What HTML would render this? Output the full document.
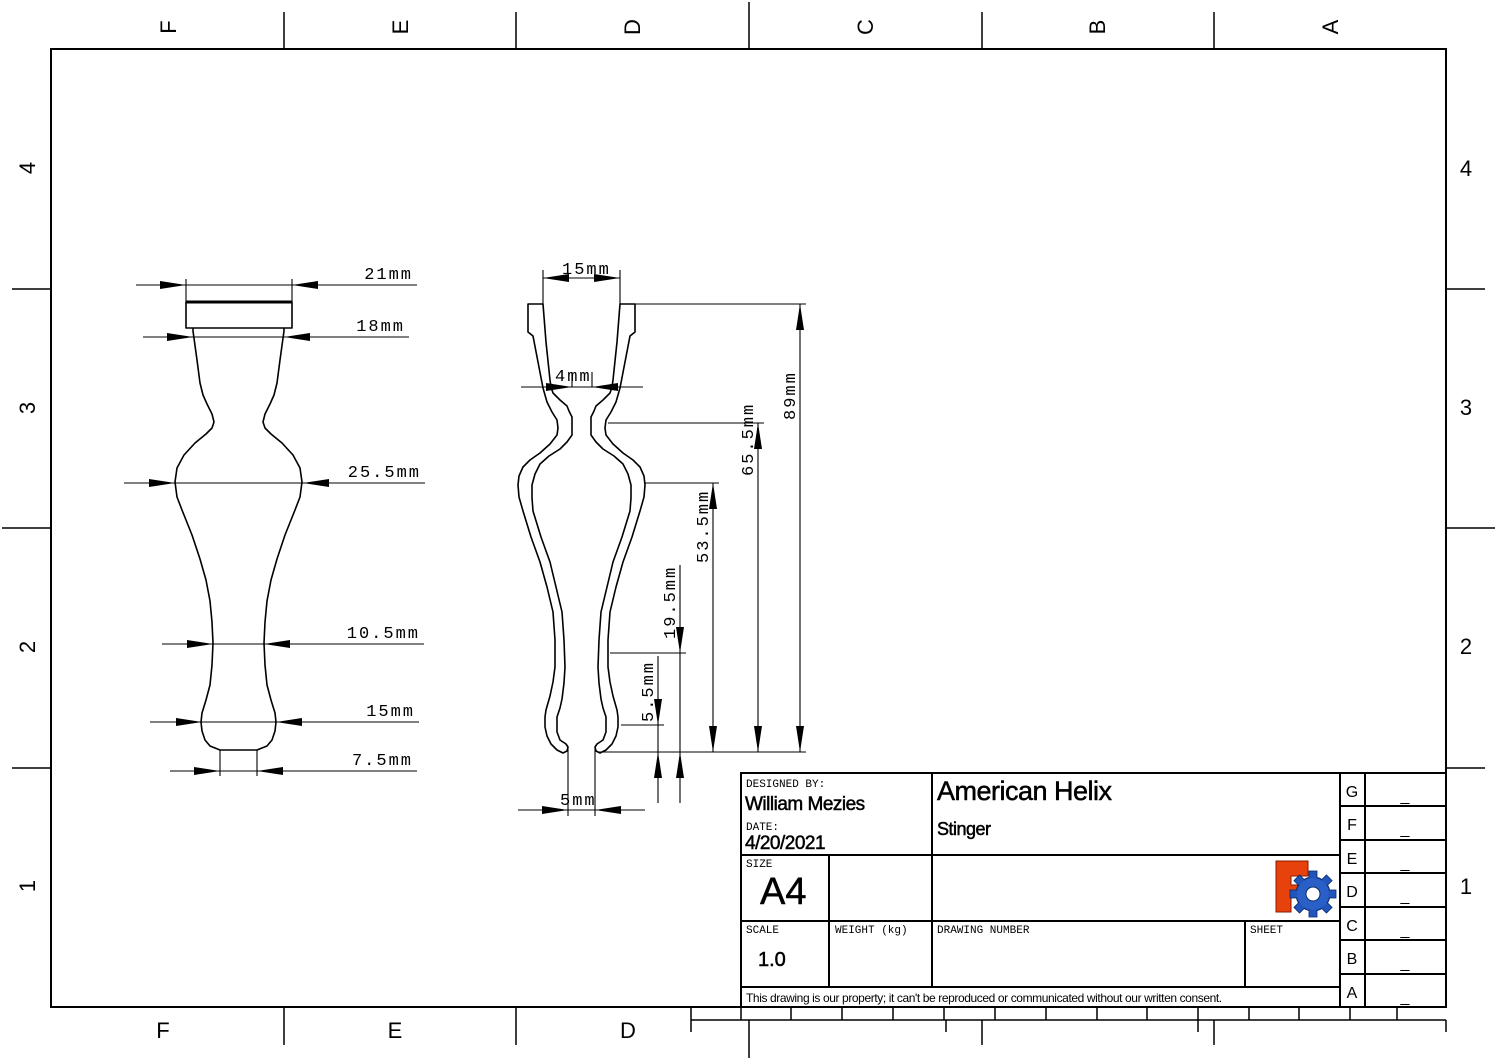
<!DOCTYPE html>
<html><head><meta charset="utf-8"><style>
html,body{margin:0;padding:0;background:#fff}
svg{display:block}
.d{font-family:"Liberation Mono","DejaVu Sans Mono",monospace;font-size:17px;letter-spacing:2px;fill:#000}
.s{font-family:"Liberation Sans",sans-serif;fill:#000}
.b{stroke:#000;stroke-width:0.5}
.m{font-family:"Liberation Mono",monospace;font-size:11px;fill:#000}
</style></head><body>
<svg width="1497" height="1058" viewBox="0 0 1497 1058" xmlns="http://www.w3.org/2000/svg">
<rect width="1497" height="1058" fill="#fff"/>
<g stroke="#000" fill="none">
<rect x="51" y="49" width="1395" height="958" stroke-width="2"/>
<g stroke-width="1.5">
<line x1="284" y1="12" x2="284" y2="49"/><line x1="516" y1="12" x2="516" y2="49"/><line x1="749" y1="2" x2="749" y2="49"/><line x1="982" y1="12" x2="982" y2="49"/><line x1="1214" y1="12" x2="1214" y2="49"/>
<line x1="12" y1="289" x2="51" y2="289"/><line x1="2" y1="528" x2="51" y2="528"/><line x1="12" y1="768" x2="51" y2="768"/>
<line x1="1446" y1="289" x2="1485" y2="289"/><line x1="1446" y1="528" x2="1495" y2="528"/><line x1="1446" y1="768" x2="1485" y2="768"/>
<line x1="284" y1="1007" x2="284" y2="1045"/><line x1="516" y1="1007" x2="516" y2="1045"/>
<line x1="691" y1="1020" x2="1446" y2="1020"/>
<line x1="691" y1="1007" x2="691" y2="1032"/><line x1="749" y1="1020" x2="749" y2="1058"/><line x1="946" y1="1020" x2="946" y2="1032"/>
<line x1="982" y1="1020" x2="982" y2="1045"/><line x1="1198" y1="1020" x2="1198" y2="1032"/><line x1="1214" y1="1020" x2="1214" y2="1045"/><line x1="1446" y1="1020" x2="1446" y2="1032"/>
<line x1="691" y1="1007" x2="741" y2="1007"/>
</g>
<g stroke-width="1.5">
<line x1="741" y1="1007" x2="741" y2="1020"/><line x1="791" y1="1007" x2="791" y2="1020"/><line x1="842" y1="1007" x2="842" y2="1020"/><line x1="893" y1="1007" x2="893" y2="1020"/><line x1="944" y1="1007" x2="944" y2="1020"/><line x1="995" y1="1007" x2="995" y2="1020"/><line x1="1046" y1="1007" x2="1046" y2="1020"/><line x1="1097" y1="1007" x2="1097" y2="1020"/><line x1="1147" y1="1007" x2="1147" y2="1020"/><line x1="1198" y1="1007" x2="1198" y2="1020"/><line x1="1249" y1="1007" x2="1249" y2="1020"/><line x1="1299" y1="1007" x2="1299" y2="1020"/><line x1="1350" y1="1007" x2="1350" y2="1020"/><line x1="1397" y1="1007" x2="1397" y2="1020"/>
</g>
</g>
<g class="s" font-size="22">
<text transform="translate(176,27) rotate(-90)" text-anchor="middle">F</text>
<text transform="translate(408,27) rotate(-90)" text-anchor="middle">E</text>
<text transform="translate(640,27) rotate(-90)" text-anchor="middle">D</text>
<text transform="translate(873,27) rotate(-90)" text-anchor="middle">C</text>
<text transform="translate(1105,27) rotate(-90)" text-anchor="middle">B</text>
<text transform="translate(1338,27) rotate(-90)" text-anchor="middle">A</text>
<text transform="translate(35,168) rotate(-90)" text-anchor="middle">4</text>
<text transform="translate(35,408) rotate(-90)" text-anchor="middle">3</text>
<text transform="translate(35,647) rotate(-90)" text-anchor="middle">2</text>
<text transform="translate(35,886) rotate(-90)" text-anchor="middle">1</text>
<text x="1466" y="176" text-anchor="middle">4</text>
<text x="1466" y="415" text-anchor="middle">3</text>
<text x="1466" y="654" text-anchor="middle">2</text>
<text x="1466" y="894" text-anchor="middle">1</text>
<text x="163" y="1038" text-anchor="middle">F</text>
<text x="395" y="1038" text-anchor="middle">E</text>
<text x="628" y="1038" text-anchor="middle">D</text>
</g>

<g stroke="#000" fill="none" stroke-width="1.6" stroke-linejoin="round">
<rect x="186" y="302" width="106" height="26"/>
<line x1="186" y1="302" x2="292" y2="302" stroke-width="3"/>
<polyline points="193,328 193,331 197,360 200,383 203,395 207,404 212,414 214,422 212,428 206,434 195,443 184,455 177,468 175,482 177,497 182,510 192,535 200,559 206,580 210,601 212,622 213,643 212,665 210,685 206,700 202,713 201,722 202,731 205,740 210,746 220,750 257,750 267,746 272,740 275,731 276,722 275,713 271,700 267,685 265,665 264,643 265,622 267,601 271,580 277,559 285,535 295,510 300,497 302,482 300,468 293,455 282,443 271,434 265,428 263,422 265,414 270,404 274,395 277,383 280,360 284,331 284,328"/>
</g>
<g stroke="#000" stroke-width="1.1">
<line x1="136" y1="285" x2="417" y2="285"/><line x1="186" y1="279" x2="186" y2="302"/><line x1="292" y1="279" x2="292" y2="302"/>
<line x1="143" y1="337" x2="409" y2="337"/>
<line x1="124" y1="483" x2="425" y2="483"/>
<line x1="162" y1="644" x2="424" y2="644"/>
<line x1="150" y1="722" x2="419" y2="722"/>
<line x1="170" y1="771" x2="417" y2="771"/><line x1="220" y1="750" x2="220" y2="776"/><line x1="257" y1="750" x2="257" y2="776"/>
</g>
<g fill="#000">
<polygon points="160,281 186,285 160,289"/><polygon points="318,281 292,285 318,289"/>
<polygon points="167,333 193,337 167,341"/><polygon points="310,333 284,337 310,341"/>
<polygon points="149,479 175,483 149,487"/><polygon points="329,479 303,483 329,487"/>
<polygon points="187,640 213,644 187,648"/><polygon points="290,640 264,644 290,648"/>
<polygon points="176,718 202,722 176,726"/><polygon points="302,718 276,722 302,726"/>
<polygon points="194,767 220,771 194,775"/><polygon points="283,767 257,771 283,775"/>
</g>
<g class="d" text-anchor="end">
<text x="413" y="279">21mm</text>
<text x="405" y="331">18mm</text>
<text x="421" y="477">25.5mm</text>
<text x="420" y="638">10.5mm</text>
<text x="415" y="716">15mm</text>
<text x="413" y="765">7.5mm</text>
</g>

<g stroke="#000" fill="none" stroke-width="1.6" stroke-linejoin="round">
<polygon points="543,304 528,304 528,332 533,336 538,362 543,388 547,402 552,412 557,420 558,428 557,435 550,444 540,453 530,460 523,467 519,476 518,485 519,497 523,511 531,537 540,562 547,587 553,612 555,640 555,667 553,682 550,696 546,710 545,717 545,727 547,736 551,744 557,750 563,753 567,751 568,747 566,744 560,740 557,732 557,724 557,717 560,708 562,699 564,683 565,667 564,640 562,612 556,587 550,562 541,537 533,511 532,498 532,485 535,474 540,464 549,456 560,449 567,442 572,435 572,426 572,417 569,411 567,406 560,400 553,393 551,387 550,380 546,342 543,304"/>
<polygon transform="translate(1163,0) scale(-1,1)" points="543,304 528,304 528,332 533,336 538,362 543,388 547,402 552,412 557,420 558,428 557,435 550,444 540,453 530,460 523,467 519,476 518,485 519,497 523,511 531,537 540,562 547,587 553,612 555,640 555,667 553,682 550,696 546,710 545,717 545,727 547,736 551,744 557,750 563,753 567,751 568,747 566,744 560,740 557,732 557,724 557,717 560,708 562,699 564,683 565,667 564,640 562,612 556,587 550,562 541,537 533,511 532,498 532,485 535,474 540,464 549,456 560,449 567,442 572,435 572,426 572,417 569,411 567,406 560,400 553,393 551,387 550,380 546,342 543,304"/>
</g>
<g stroke="#000" stroke-width="1.1">
<line x1="568" y1="747" x2="568" y2="816"/><line x1="595" y1="747" x2="595" y2="816"/>
<line x1="518" y1="810" x2="645" y2="810"/>
<line x1="543" y1="270" x2="543" y2="304"/><line x1="620" y1="270" x2="620" y2="304"/><line x1="543" y1="278" x2="620" y2="278"/>
<line x1="521" y1="387" x2="643" y2="387"/><line x1="572" y1="372" x2="572" y2="387"/><line x1="592" y1="372" x2="592" y2="387"/>
<line x1="635" y1="304" x2="806" y2="304"/><line x1="598" y1="752" x2="806" y2="752"/><line x1="800" y1="304" x2="800" y2="752"/>
<line x1="608" y1="423" x2="764" y2="423"/><line x1="758" y1="423" x2="758" y2="752"/>
<line x1="645" y1="483" x2="719" y2="483"/><line x1="713" y1="483" x2="713" y2="752"/>
<line x1="610" y1="653" x2="686" y2="653"/><line x1="680" y1="565" x2="680" y2="803"/>
<line x1="621" y1="725" x2="664" y2="725"/><line x1="658" y1="656" x2="658" y2="803"/>
</g>
<g fill="#000">
<polygon points="542,806 568,810 542,814"/><polygon points="621,806 595,810 621,814"/>
<polygon points="569,274 543,278 569,282"/><polygon points="594,274 620,278 594,282"/>
<polygon points="546,383 572,387 546,391"/><polygon points="618,383 592,387 618,391"/>
<polygon points="796,330 800,304 804,330"/><polygon points="796,726 800,752 804,726"/>
<polygon points="754,449 758,423 762,449"/><polygon points="754,726 758,752 762,726"/>
<polygon points="709,509 713,483 717,509"/><polygon points="709,726 713,752 717,726"/>
<polygon points="676,627 680,653 684,627"/><polygon points="676,778 680,752 684,778"/>
<polygon points="654,699 658,725 662,699"/><polygon points="654,778 658,752 662,778"/>
</g>
<g class="d">
<text x="562" y="274">15mm</text>
<text x="555" y="381">4mm</text>
<text x="560" y="805">5mm</text>
<text transform="translate(795,420) rotate(-90)">89mm</text>
<text transform="translate(753,476) rotate(-90)">65.5mm</text>
<text transform="translate(708,563) rotate(-90)">53.5mm</text>
<text transform="translate(675,639) rotate(-90)">19.5mm</text>
<text transform="translate(653,722) rotate(-90)">5.5mm</text>
</g>

<rect x="741" y="773" width="705" height="234" fill="#fff"/>
<g stroke="#000" fill="none" stroke-width="2">
<rect x="741" y="773" width="705" height="234"/>
<line x1="932" y1="773" x2="932" y2="987"/>
<line x1="741" y1="855" x2="1340" y2="855"/>
<line x1="741" y1="921" x2="1340" y2="921"/>
<line x1="741" y1="987" x2="1340" y2="987"/>
<line x1="829" y1="855" x2="829" y2="987"/>
<line x1="1245" y1="921" x2="1245" y2="987"/>
<line x1="1340" y1="773" x2="1340" y2="1007"/>
<line x1="1365" y1="773" x2="1365" y2="1007"/>
<line x1="1340" y1="806" x2="1446" y2="806"/><line x1="1340" y1="840" x2="1446" y2="840"/><line x1="1340" y1="873" x2="1446" y2="873"/><line x1="1340" y1="907" x2="1446" y2="907"/><line x1="1340" y1="940" x2="1446" y2="940"/><line x1="1340" y1="974" x2="1446" y2="974"/>
</g>
<g class="m">
<text x="746" y="787">DESIGNED BY:</text>
<text x="746" y="830">DATE:</text>
<text x="746" y="867">SIZE</text>
<text x="746" y="933">SCALE</text>
<text x="835" y="933">WEIGHT (kg)</text>
<text x="937" y="933">DRAWING NUMBER</text>
<text x="1250" y="933">SHEET</text>
</g>
<g class="s">
<text class="b" x="745" y="810" font-size="19" letter-spacing="-0.5">William Mezies</text>
<text class="b" x="745" y="849" font-size="19" letter-spacing="-0.5">4/20/2021</text>
<text class="b" x="937" y="800" font-size="27" letter-spacing="-0.5">American Helix</text>
<text class="b" x="937" y="835" font-size="18" letter-spacing="-0.5">Stinger</text>
<text class="b" x="760" y="904" font-size="38">A4</text>
<text class="b" x="758" y="966" font-size="20">1.0</text>
<text x="746" y="1002" font-size="12" letter-spacing="-0.4">This drawing is our property; it can't be reproduced or communicated without our written consent.</text>
<g font-size="16" text-anchor="middle">
<text x="1352" y="797">G</text><text x="1352" y="830">F</text><text x="1352" y="864">E</text><text x="1352" y="897">D</text><text x="1352" y="931">C</text><text x="1352" y="964">B</text><text x="1352" y="998">A</text>
<text x="1405" y="801">_</text><text x="1405" y="834">_</text><text x="1405" y="868">_</text><text x="1405" y="901">_</text><text x="1405" y="935">_</text><text x="1405" y="968">_</text><text x="1405" y="1002">_</text>
</g>
</g>
<polygon points="1276,861 1308,861 1308,876 1291,876 1291,885 1302,885 1302,897 1291,897 1291,912 1276,912" fill="#e8420c" stroke="#8a1a00" stroke-width="1"/>
<g transform="translate(1313,894)">
<circle r="17" fill="#2255bb" stroke="#0a2a6a"/>
<g fill="#2255bb" stroke="#0a2a6a" stroke-width="0.8">
<rect x="-4" y="-23" width="8" height="9"/>
<rect x="-4" y="-23" width="8" height="9" transform="rotate(45)"/>
<rect x="-4" y="-23" width="8" height="9" transform="rotate(90)"/>
<rect x="-4" y="-23" width="8" height="9" transform="rotate(135)"/>
<rect x="-4" y="-23" width="8" height="9" transform="rotate(180)"/>
<rect x="-4" y="-23" width="8" height="9" transform="rotate(225)"/>
<rect x="-4" y="-23" width="8" height="9" transform="rotate(270)"/>
<rect x="-4" y="-23" width="8" height="9" transform="rotate(315)"/>
</g>
<circle r="16" fill="#2a5fc8"/>
<circle r="7" fill="#fff" stroke="#0a2a6a"/>
</g>
</svg>
</body></html>
